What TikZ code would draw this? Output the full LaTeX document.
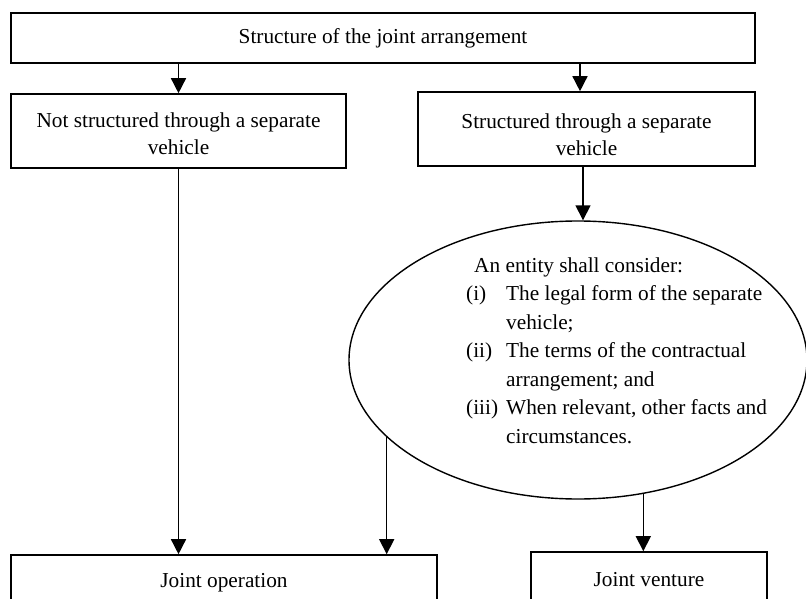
\documentclass[tikz,border=0pt]{standalone}
\usepackage{fontspec}
\setmainfont{Liberation Serif}
\usetikzlibrary{shapes.geometric,arrows.meta,calc}
\begin{document}
\begin{tikzpicture}[x=1pt,y=-1pt,
  box/.style={draw,line width=1.6pt,inner sep=0pt,align=center,font=\fontsize{21.3}{27}\selectfont},
  arr/.style={line width=1.5pt,-{Triangle[width=15pt,length=15pt]}},
  oval/.style={draw,ellipse,line width=1.4pt,inner sep=0pt},
  txt/.style={inner sep=0pt,font=\fontsize{21.3}{28.5}\selectfont}
]
\useasboundingbox (0,0) rectangle (806,599);
\clip (0,0) rectangle (806,599);

\node[box,minimum width=744pt,minimum height=50pt] (top) at (383,38) {Structure of the joint arrangement};
\node[box,minimum width=335pt,minimum height=74pt] (lb) at (178.5,131) {\rule{0pt}{20.5pt}Not structured through a separate\\vehicle};
\node[box,minimum width=337pt,minimum height=74pt] (rb) at (586.5,129) {\rule{0pt}{26pt}Structured through a separate\\vehicle};
\node[oval,minimum width=458pt,minimum height=278pt] (ell) at (578,360) {};
\node[txt,anchor=base west] (list) at (466,272) {%
\begin{tabular}[t]{@{}p{40pt}@{}l@{}}
\multicolumn{2}{@{\hspace{8pt}}l@{}}{An entity shall consider:}\\
(i) & The legal form of the separate\\
    & vehicle;\\
(ii) & The terms of the contractual\\
     & arrangement; and\\
(iii) & When relevant, other facts and\\
      & circumstances.
\end{tabular}};
\node[box,minimum width=426pt,minimum height=50pt] (jo) at (224,580) {\rule{0pt}{20.5pt}Joint operation};
\node[box,minimum width=236pt,minimum height=56pt] (jv) at (649,580) {Joint venture};

\coordinate (xa) at (580,0);
\coordinate (xb) at (583,0);
\draw[arr] (top.south -| lb.north) -- (lb.north);
\draw[arr] (top.south -| xa) -- (rb.north -| xa);
\draw[arr] (rb.south -| xb) -- (ell.north -| xb);
\draw[arr] (lb.south) -- (lb.south |- jo.north);
\draw[arr] (ell.202) -- (ell.202 |- jo.north);
\draw[arr] (ell.-64) -- (ell.-64 |- jv.north);
\end{tikzpicture}
\end{document}
